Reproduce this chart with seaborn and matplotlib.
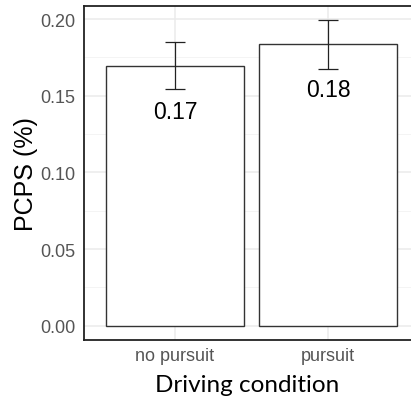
import matplotlib
matplotlib.use("Agg")
import matplotlib.pyplot as plt
from matplotlib.ticker import MultipleLocator
import seaborn as sns
import pandas as pd

# Mean PCPS per driving condition, with error-bar bounds
conditions = ["no pursuit", "pursuit"]
means = [0.1695, 0.1838]
err_low = [0.1545, 0.1675]
err_high = [0.1851, 0.1995]
value_labels = ["0.17", "0.18"]
y_ticks = [0.00, 0.05, 0.10, 0.15, 0.20]

df = pd.DataFrame({"condition": conditions, "pcps": means})

sns.set_theme(style="white")
plt.rcParams["font.family"] = ["Liberation Sans", "DejaVu Sans"]

fig = plt.figure(figsize=(4.11, 4.06), dpi=100)
ax = fig.add_axes([84 / 411, 1 - 341 / 406, 1 - 84 / 411, (341 - 7) / 406])

sns.barplot(data=df, x="condition", y="pcps", color="white", edgecolor="#333333",
            linewidth=1.0, width=0.9, saturation=1, ax=ax, zorder=2)

pos = list(range(len(conditions)))
yerr = [[m - lo for m, lo in zip(means, err_low)],
        [hi - m for m, hi in zip(means, err_high)]]
ax.errorbar(pos, means, yerr=yerr, fmt="none", ecolor="#222222",
            elinewidth=0.9, capsize=7.5, capthick=0.9, zorder=3)

for p, m, lab in zip(pos, means, value_labels):
    ax.annotate(lab, xy=(p, m), xytext=(0, -33), textcoords="offset points",
                ha="center", va="center", fontsize=16.5, color="black", zorder=4)

ax.set_xlim(-0.595, 1.542)
ax.set_ylim(-0.0093, 0.2085)
ax.set_yticks(y_ticks)
ax.set_yticklabels([f"{t:.2f}" for t in y_ticks])
ax.yaxis.set_minor_locator(MultipleLocator(0.025))

ax.grid(True, which="major", color="#EBEBEB", linewidth=1.1, zorder=0)
ax.grid(True, which="minor", axis="y", color="#F2F2F2", linewidth=0.6, zorder=0)
ax.set_axisbelow(True)

ax.tick_params(axis="both", which="both", length=0, labelsize=13, colors="#555555", pad=5)
ax.tick_params(axis="y", pad=6)

for side in ["left", "top", "bottom"]:
    ax.spines[side].set_visible(True)
    ax.spines[side].set_color("#222222")
    ax.spines[side].set_linewidth(1.3)
ax.spines["right"].set_visible(False)

ax.set_ylabel("PCPS (%)", fontsize=18, color="black", labelpad=2)
ax.set_xlabel("Driving condition", fontsize=17.5, color="black", labelpad=7.5,
              family=["Lato", "DejaVu Sans"])

fig.savefig("out.png", dpi=100)
